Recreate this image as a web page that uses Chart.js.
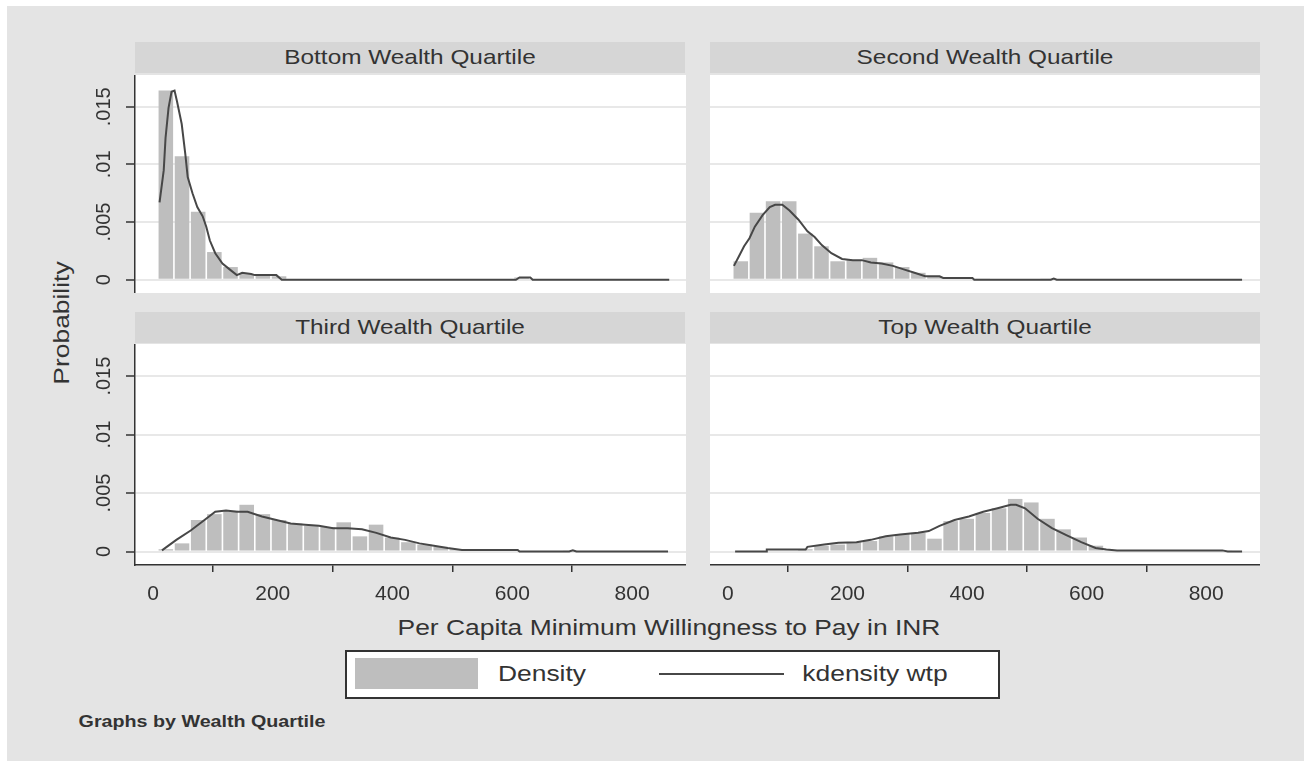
<!DOCTYPE html>
<html>
<head>
<meta charset="utf-8">
<script src="https://cdn.jsdelivr.net/npm/chart.js@4.4.1/dist/chart.umd.min.js"></script>
<style>
  body { margin: 0; width: 1304px; height: 761px; background: #fff; overflow: hidden; position: relative;
         font-family: "Liberation Sans", Arial, sans-serif; color: #333; }
  #frame { position: absolute; left: 7px; top: 6px; width: 1297px; height: 755px; background: #e4e4e4; }
  .strip { position: absolute; height: 31px; background: #d6d6d6; }
  canvas { position: absolute; }
  .txt { position: absolute; white-space: nowrap; color: #333; }
  .head { font-size: 21px; }
  .title { font-size: 22px; }
  #legend { position: absolute; left: 345px; top: 650px; width: 651px; height: 45px; background: #fff; border: 2px solid #333; }
  #swatch { position: absolute; left: 355px; top: 658px; width: 123px; height: 31px; background: #bebebe; }
  #lineKey { position: absolute; left: 659px; top: 673px; width: 125px; height: 2px; background: #474747; }
  .note { font-size: 16px; font-weight: bold; }
</style>
</head>
<body>
<div id="frame"></div>

<div class="strip" style="left:135px;top:42px;width:550px"></div>
<div class="strip" style="left:710px;top:42px;width:550px"></div>
<div class="strip" style="left:135px;top:312px;width:550px"></div>
<div class="strip" style="left:710px;top:312px;width:550px"></div>
<div class="txt head" data-k="1.16" style="left:410px;top:57px">Bottom Wealth Quartile</div>
<div class="txt head" data-k="1.16" style="left:985px;top:57px">Second Wealth Quartile</div>
<div class="txt head" data-k="1.16" style="left:410px;top:327px">Third Wealth Quartile</div>
<div class="txt head" data-k="1.16" style="left:985px;top:327px">Top Wealth Quartile</div>

<canvas id="tl" width="601" height="218" style="left:85px;top:75px"></canvas>
<canvas id="tr" width="550" height="218" style="left:710px;top:75px"></canvas>
<canvas id="bl" width="601" height="261" style="left:85px;top:344px"></canvas>
<canvas id="br" width="550" height="261" style="left:710px;top:344px"></canvas>

<div class="txt title" data-k="1.2" style="left:669px;top:628px">Per Capita Minimum Willingness to Pay in INR</div>
<div class="txt title" data-k="1.2" data-rot="-90" style="left:62px;top:323px">Probability</div>

<div id="legend"></div>
<div id="swatch"></div>
<div id="lineKey"></div>
<div class="txt title" data-k="1.2" style="left:542px;top:674px">Density</div>
<div class="txt title" data-k="1.2" style="left:875px;top:674px">kdensity wtp</div>

<div class="txt note" data-k="1.23" style="left:202px;top:722px">Graphs by Wealth Quartile</div>

<script>
// histogram bins (width 27, starting at 8)
const binCenters = [21.5, 48.5, 75.5, 102.5, 129.5, 156.5, 183.5, 210.5, 237.5, 264.5, 291.5, 318.5,
  345.5, 372.5, 399.5, 426.5, 453.5, 480.5, 507.5, 534.5, 561.5, 588.5, 615.5, 642.5,
  669.5, 696.5, 723.5, 750.5, 777.5, 804.5, 831.5, 858.5];

const densBottom = [0.0164, 0.0107, 0.0059, 0.0024, 0.0011, 0.0005, 0.0004, 0.0003, 0, 0, 0, 0,
  0, 0, 0, 0, 0, 0, 0, 0, 0, 0, 0.0002, 0, 0, 0, 0, 0, 0, 0, 0, 0];
const densSecond = [0.0016, 0.0058, 0.0068, 0.0068, 0.0040, 0.0029, 0.0016, 0.0017, 0.0019, 0.0015, 0.0011, 0.0006,
  0.0003, 0.00015, 0.00015, 0.0001, 0, 0, 0, 0.0001, 0, 0, 0, 0, 0, 0, 0, 0, 0, 0, 0, 0];
const densThird = [0.0002, 0.0007, 0.0027, 0.0032, 0.0035, 0.0040, 0.0032, 0.0027, 0.0024, 0.0022, 0.0021, 0.0025,
  0.0013, 0.0023, 0.0012, 0.0008, 0.0006, 0.0004, 0.0002, 0.0001, 0.0001, 0.0001, 0, 0, 0, 0.0001, 0, 0, 0, 0, 0, 0];
const densTop = [0, 0, 0, 0, 0.0002, 0.0005, 0.0006, 0.0008, 0.0009, 0.0013, 0.0015, 0.0016,
  0.0011, 0.0026, 0.0028, 0.0033, 0.0037, 0.0045, 0.0042, 0.0028, 0.0019, 0.0012, 0.0005, 0.0001,
  0.0001, 0.0001, 0.0001, 0.0001, 0.0001, 0.0001, 0.0001, 0];

// kernel density curves
const kdBottomX = [11, 18, 21, 26, 31, 36, 40, 48, 54, 58, 66, 74, 83, 89, 95, 104, 116, 128, 140, 149, 164, 170, 206, 215, 606, 612, 630, 634, 862];
const kdBottomY = [0.0067, 0.0095, 0.0123, 0.0149, 0.0163, 0.0164, 0.0155, 0.0135, 0.0109, 0.0089, 0.0075, 0.0063, 0.0055, 0.0046, 0.0034,
  0.0023, 0.0014, 0.0009, 0.0004, 0.0006, 0.0005, 0.0004, 0.0004, 0, 0, 0.0002, 0.0002, 0, 0];
const kdSecondX = [10, 18, 27, 36, 45, 58, 70, 79, 91, 103, 118, 133, 145, 157, 173, 191, 209, 224, 239, 257, 276, 294, 312, 330,
  354, 360, 409, 412, 540, 545, 550, 860];
const kdSecondY = [0.0012, 0.0020, 0.0029, 0.0036, 0.0046, 0.0056, 0.0063, 0.0065, 0.0065, 0.0060, 0.0052, 0.0042, 0.0037, 0.0030,
  0.0023, 0.0018, 0.0017, 0.0017, 0.0015, 0.0014, 0.0012, 0.0009, 0.0006, 0.0003, 0.0003, 0.00015, 0.00015, 0, 0, 0.0001, 0, 0];
const kdThirdX = [15, 39, 63, 86, 104, 122, 140, 158, 182, 206, 230, 254, 277, 301, 325, 349, 373, 397, 421, 445, 469, 492, 516,
  609, 612, 695, 701, 707, 860];
const kdThirdY = [0.0001, 0.0010, 0.0018, 0.0027, 0.0034, 0.0035, 0.0034, 0.0034, 0.0030, 0.0027, 0.0024, 0.0023, 0.0022, 0.0020,
  0.0020, 0.0019, 0.0016, 0.0012, 0.0010, 0.0007, 0.0005, 0.0003, 0.00014, 0.00014, 0, 0, 0.0001, 0, 0];
const kdTopX = [12, 64, 65, 130, 133, 161, 185, 215, 239, 264, 288, 318, 336, 354, 379, 403, 427, 451, 473, 482, 497, 518, 542,
  566, 591, 615, 633, 651, 827, 836, 860];
const kdTopY = [0, 0, 0.00017, 0.00017, 0.0004, 0.0006, 0.00075, 0.0008, 0.0010, 0.0013, 0.00146, 0.0016, 0.00175, 0.0022, 0.0027,
  0.0030, 0.0034, 0.0037, 0.0040, 0.0040, 0.0037, 0.0028, 0.0020, 0.0014, 0.0008, 0.0003, 0.00017, 0.0001, 0.0001, 0, 0];

const xTickValues = [0, 200, 400, 600, 800];
const xTickLabels = ['0', '200', '400', '600', '800'];
const yTickValues = [0, 0.005, 0.01, 0.015];
const yTickLabels = ['0', '.005', '.01', '.015'];

const FONT = '"Liberation Sans", Arial, sans-serif';
const INK = '#333';

// white plot region behind the marks
const plotBg = {
  id: 'plotBg',
  beforeDraw(chart) {
    const { ctx, chartArea: a } = chart;
    ctx.save();
    ctx.fillStyle = '#fff';
    ctx.fillRect(a.left, a.top, a.right - a.left, a.bottom - a.top);
    ctx.restore();
  }
};

// no extra room around the axes: the canvases are placed to match the plot areas
function noPad(s) {
  s.paddingTop = 0; s.paddingBottom = 0; s.paddingLeft = 0; s.paddingRight = 0;
}

function makePanel(id, dens, kdX, kdY, showY, showX) {
  const bars = binCenters.map((c, i) => ({ x: c, y: dens[i] }));
  const curve = kdX.map((x, i) => ({ x: x, y: kdY[i] }));

  return new Chart(document.getElementById(id), {
    type: 'bar',
    data: {
      datasets: [
        { type: 'line', label: 'kdensity wtp', data: curve, borderColor: '#474747', borderWidth: 2,
          pointRadius: 0, tension: 0, order: 0 },
        { type: 'bar', label: 'Density', data: bars, backgroundColor: '#bebebe',
          barPercentage: 0.9, categoryPercentage: 1, order: 1 }
      ]
    },
    options: {
      responsive: false,
      devicePixelRatio: 1,
      animation: false,
      events: [],
      layout: { padding: 0 },
      plugins: { legend: { display: false }, tooltip: { enabled: false } },
      scales: {
        x: {
          type: 'linear', min: -30, max: 890, offset: false, display: showX,
          afterBuildTicks: s => { s.ticks = xTickValues.map(v => ({ value: v })); },
          afterFit: s => { s.height = showX ? 40 : 0; noPad(s); },
          grid: { drawOnChartArea: false, drawTicks: true, tickLength: 7, color: INK, tickColor: INK, lineWidth: 1.5 },
          border: { display: true, color: INK, width: 1.5 },
          ticks: { color: INK, font: { size: 21, family: FONT }, padding: 10, maxRotation: 0, autoSkip: false,
                   callback: (v, i) => xTickLabels[i] }
        },
        y: {
          min: -0.00115, max: 0.01775,
          afterBuildTicks: s => { s.ticks = yTickValues.map(v => ({ value: v })); },
          afterFit: s => { s.width = showY ? 50 : 0; noPad(s); },
          grid: { color: '#e8e8e8', lineWidth: 2, drawTicks: showY, tickLength: 9, tickColor: INK, tickWidth: 1.5 },
          border: { display: showY, color: INK, width: 1.5 },
          ticks: { display: showY, color: INK, font: { size: 20, family: FONT }, minRotation: 90, maxRotation: 90,
                   crossAlign: 'center', padding: 2, autoSkip: false,
                   callback: (v, i) => yTickLabels[i] }
        }
      }
    },
    plugins: [plotBg]
  });
}

makePanel('tl', densBottom, kdBottomX, kdBottomY, true, false);
makePanel('tr', densSecond, kdSecondX, kdSecondY, false, false);
makePanel('bl', densThird, kdThirdX, kdThirdY, true, true);
makePanel('br', densTop, kdTopX, kdTopY, false, true);

// centre each label on its anchor and stretch it horizontally like the original
document.querySelectorAll('.txt').forEach(el => {
  const k = el.dataset.k || 1;
  const rot = el.dataset.rot || 0;
  el.style.transform = `translate(-50%, -50%) rotate(${rot}deg) scaleX(${k})`;
});
</script>
</body>
</html>
